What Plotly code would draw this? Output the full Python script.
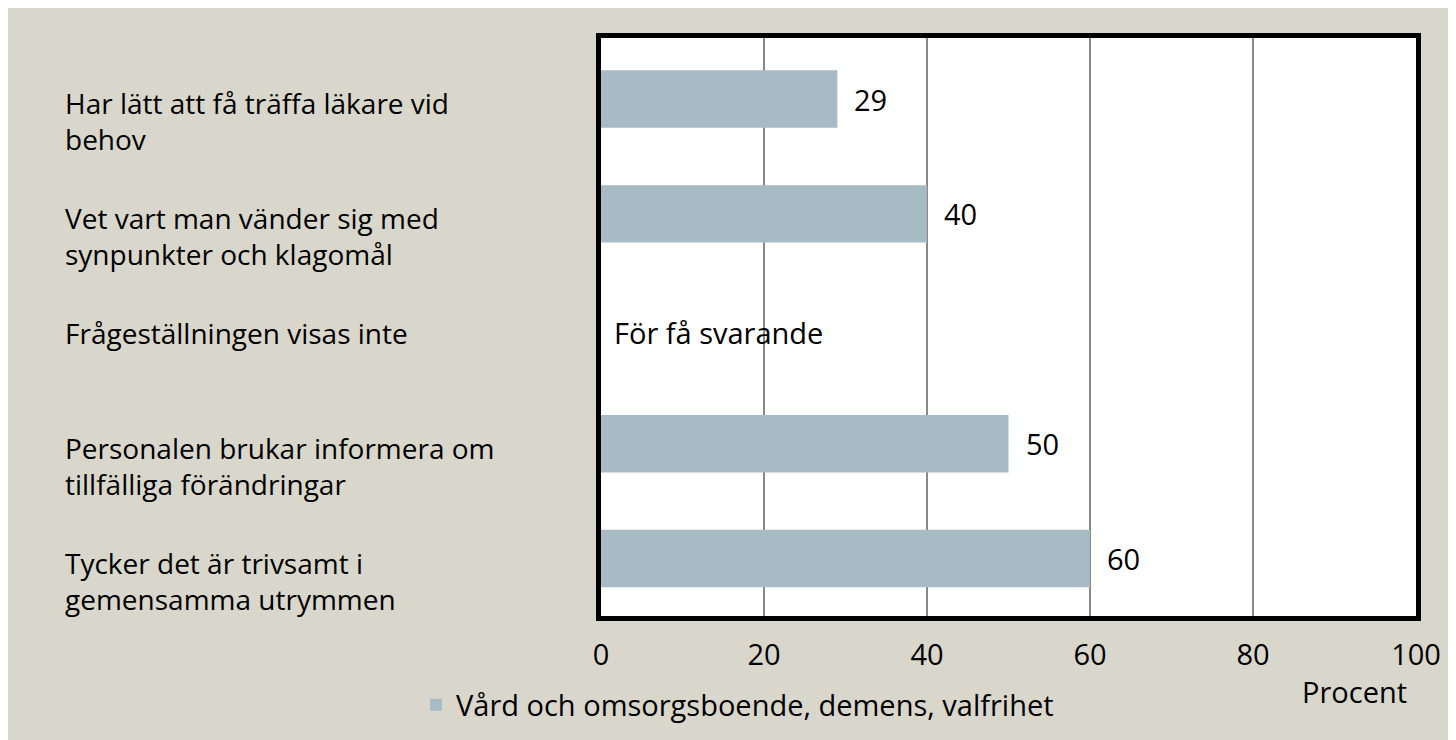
import plotly.graph_objects as go

# ---- data ----
categories = [
    "Har lätt att få träffa läkare vid<br>behov",
    "Vet vart man vänder sig med<br>synpunkter och klagomål",
    "Frågeställningen visas inte",
    "Personalen brukar informera om<br>tillfälliga förändringar",
    "Tycker det är trivsamt i<br>gemensamma utrymmen",
]
values = [29, 40, None, 50, 60]
series_name = "Vård och omsorgsboende, demens, valfrihet"
missing_text = "För få svarande"
x_ticks = [0, 20, 40, 60, 80, 100]
x_title = "Procent"

# ---- style ----
W, H = 1448, 732
ML, MR, MT, MB = 593, 40, 30, 124
PW = W - ML - MR
BG = "#D9D7CB"
BAR = "#A7BBC5"
FONT = "Open Sans"
FS = 29
FS_LABEL = 28
LABEL_X_PX = 55

fig = go.Figure()
fig.add_trace(go.Bar(
    x=values, y=categories, orientation="h", name=series_name,
    marker=dict(color=BAR, line=dict(width=0)),
    hoverinfo="skip",
))

annotations = []
for cat, val in zip(categories, values):
    nlines = cat.count("<br>") + 1
    annotations.append(dict(
        xref="paper", yref="y", x=(LABEL_X_PX - ML) / PW, y=cat,
        text=cat, showarrow=False, xanchor="left", yanchor="middle",
        align="left", yshift=-4 if nlines == 1 else -22,
        font=dict(family=FONT, size=FS_LABEL, color="black"),
    ))
    if val is None:
        annotations.append(dict(
            xref="x", yref="y", x=0, y=cat, text=missing_text,
            showarrow=False, xanchor="left", yanchor="middle", xshift=11,
            yshift=-4,
            font=dict(family=FONT, size=FS, color="black"),
        ))
    else:
        annotations.append(dict(
            xref="x", yref="y", x=val, y=cat, text=str(val),
            showarrow=False, xanchor="left", yanchor="middle", xshift=15,
            font=dict(family=FONT, size=FS, color="black"),
        ))

annotations.append(dict(
    xref="paper", yref="paper", x=1, y=0, text=x_title, showarrow=False,
    xanchor="right", yanchor="middle", xshift=-7, yshift=-75,
    font=dict(family=FONT, size=FS, color="black"),
))

fig.update_layout(
    width=W, height=H,
    margin=dict(l=ML, r=MR, t=MT, b=MB, pad=0, autoexpand=False),
    paper_bgcolor=BG, plot_bgcolor="white",
    font=dict(family=FONT, size=FS, color="black"),
    bargap=0.5,
    showlegend=True,
    legend=dict(
        orientation="h", xref="container", yref="container",
        x=408 / W, y=1 - 697 / H, xanchor="left", yanchor="middle",
        bgcolor="rgba(0,0,0,0)", font=dict(family=FONT, size=FS, color="black"),
    ),
    annotations=annotations,
    xaxis=dict(
        range=[0, 100], tickvals=x_ticks, ticktext=[str(t) for t in x_ticks],
        showgrid=True, gridcolor="#888888", gridwidth=2, automargin=False,
        zeroline=False, showline=True, linecolor="black", linewidth=5,
        mirror=True, ticks="", ticklabelstandoff=9,
        tickfont=dict(family=FONT, size=FS, color="black"), fixedrange=True,
    ),
    yaxis=dict(
        categoryorder="array", categoryarray=categories, autorange="reversed",
        showticklabels=False, showgrid=False, zeroline=False, automargin=False,
        showline=True, linecolor="black", linewidth=5, mirror=True, ticks="",
        fixedrange=True,
    ),
)

fig.write_html("out.html")
